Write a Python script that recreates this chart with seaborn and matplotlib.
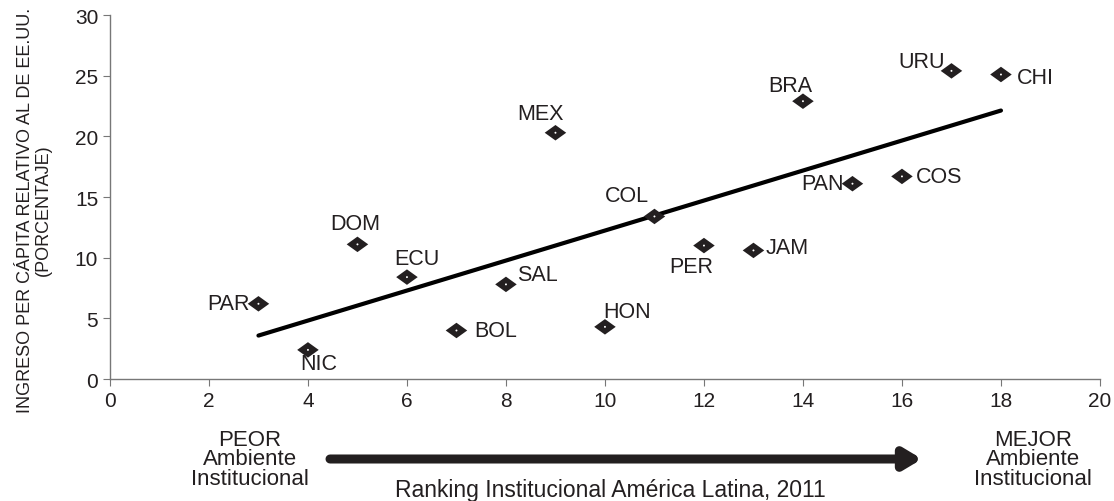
import numpy as np
import pandas as pd
import matplotlib
matplotlib.use("Agg")
import matplotlib.pyplot as plt
from matplotlib.path import Path
import seaborn as sns

# data
paises = ['PAR', 'NIC', 'DOM', 'ECU', 'BOL', 'SAL', 'MEX', 'HON',
          'COL', 'PER', 'JAM', 'BRA', 'PAN', 'COS', 'URU', 'CHI']
ranking = [3, 4, 5, 6, 7, 8, 9, 10, 11, 12, 13, 14, 15, 16, 17, 18]
ingreso = [6.2, 2.4, 11.1, 8.4, 4.0, 7.8, 20.3, 4.3,
           13.4, 11.0, 10.6, 22.9, 16.1, 16.7, 25.4, 25.1]

df = pd.DataFrame({'pais': paises, 'ranking': ranking, 'ingreso': ingreso})

# label placement (pixels offset, alignment)
offsets = {
    'PAR': (-9, 0, 'right', 'center'),
    'NIC': (-8, -3, 'left', 'top'),
    'DOM': (-2, 10, 'center', 'bottom'),
    'ECU': (10, 8, 'center', 'bottom'),
    'BOL': (18, 0, 'left', 'center'),
    'SAL': (11, 10, 'left', 'center'),
    'MEX': (-15, 9, 'center', 'bottom'),
    'HON': (-2, 5, 'left', 'bottom'),
    'COL': (-28, 10, 'center', 'bottom'),
    'PER': (-13, -10, 'center', 'top'),
    'JAM': (12, 3, 'left', 'center'),
    'BRA': (-13, 5, 'center', 'bottom'),
    'PAN': (-9, 0, 'right', 'center'),
    'COS': (14, 0, 'left', 'center'),
    'URU': (-7, 9, 'right', 'center'),
    'CHI': (16, -3, 'left', 'center'),
}

sns.set_style('white')
plt.rcParams['font.family'] = ['Liberation Sans', 'DejaVu Sans']

fig = plt.figure(figsize=(11.14, 5.02), dpi=100)
ax = fig.add_axes([0.0987, 0.243, 0.8887, 0.725])

# flattened diamond marker
rombo = Path([(-1, 0), (0, 0.72), (1, 0), (0, -0.72), (-1, 0)],
             [Path.MOVETO, Path.LINETO, Path.LINETO, Path.LINETO, Path.CLOSEPOLY])

sns.regplot(data=df, x='ranking', y='ingreso', ci=None, scatter=False,
            color='black', line_kws={'linewidth': 3}, truncate=True, ax=ax)
sns.scatterplot(data=df, x='ranking', y='ingreso', marker=rombo, s=240,
                color='#231f20', edgecolor='none', ax=ax, zorder=3)
sns.scatterplot(data=df, x='ranking', y='ingreso', marker='o', s=2,
                color='white', edgecolor='none', ax=ax, zorder=4)

for p, x, y in zip(paises, ranking, ingreso):
    dx, dy, ha, va = offsets[p]
    ax.annotate(p, (x, y), xytext=(dx, dy), textcoords='offset pixels',
                ha=ha, va=va, fontsize=15.5, color='#231f20')

ax.set_xlim(0, 20)
ax.set_ylim(0, 30)
ax.set_xticks(range(0, 21, 2))
ax.set_yticks(range(0, 31, 5))
ax.tick_params(axis='both', labelsize=15, colors='#231f20', length=5,
               direction='out', bottom=True, left=True, color='#777777')
for s in ['top', 'right']:
    ax.spines[s].set_visible(False)
for s in ['left', 'bottom']:
    ax.spines[s].set_color('#777777')
    ax.spines[s].set_linewidth(1)
ax.set_xlabel('')
ax.set_ylabel('')

fig.text(0.031, 1 - 210 / 502, 'INGRESO PER CÁPITA RELATIVO AL DE EE.UU.\n(PORCENTAJE)',
         rotation=90, ha='center', va='center', fontsize=13,
         color='#231f20', linespacing=1.1)

fig.text(250 / 1114, 1 - 460 / 502, 'PEOR\nAmbiente\nInstitucional',
         ha='center', va='center', fontsize=16, color='#231f20', linespacing=0.92)
fig.text(1033 / 1114, 1 - 460 / 502, 'MEJOR\nAmbiente\nInstitucional',
         ha='center', va='center', fontsize=16, color='#231f20', linespacing=0.92)
fig.text(610 / 1114, 1 - 491 / 502, 'Ranking Institucional América Latina, 2011',
         ha='center', va='center', fontsize=16.5, color='#231f20')

ax.annotate('', xy=(922 / 1114, 1 - 460 / 502), xycoords='figure fraction',
            xytext=(330 / 1114, 1 - 460 / 502), textcoords='figure fraction',
            arrowprops=dict(arrowstyle='-|>,head_length=1.0,head_width=0.6',
                            lw=6.5, color='#231f20', shrinkA=0, shrinkB=0),
            annotation_clip=False)

fig.savefig('out.png', dpi=100)
